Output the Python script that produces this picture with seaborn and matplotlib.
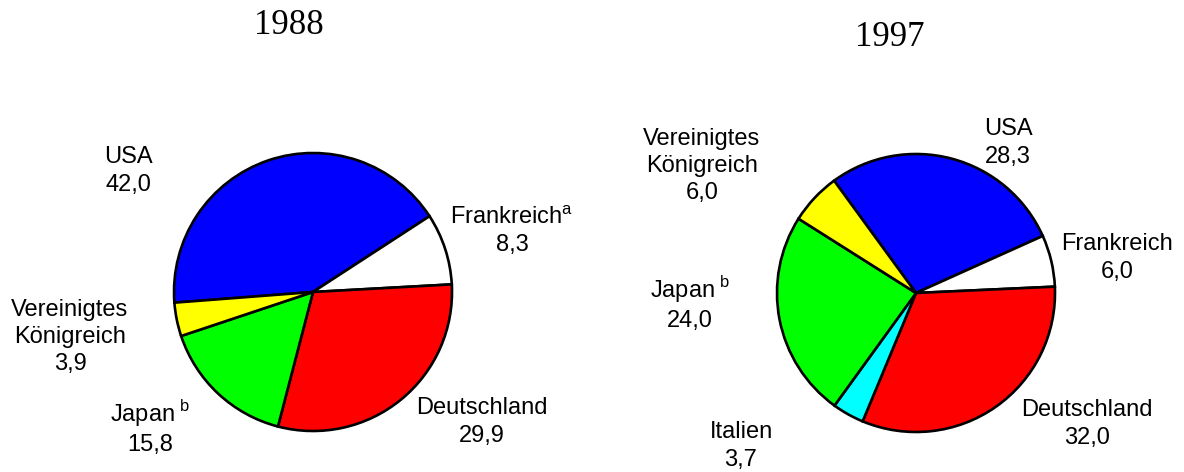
import matplotlib

matplotlib.use("Agg")

import matplotlib.pyplot as plt
import seaborn as sns

sns.set_theme(style="white")
plt.rcParams["font.family"] = ["Liberation Sans", "DejaVu Sans"]
plt.rcParams["mathtext.fontset"] = "custom"
plt.rcParams["mathtext.rm"] = "Liberation Sans"
plt.rcParams["text.color"] = "black"

# shares in percent, clockwise starting with USA
COUNTRIES_1988 = ["USA", "Frankreich", "Deutschland", "Japan", "Vereinigtes\nKönigreich"]
VALUES_1988 = [42.0, 8.3, 29.9, 15.8, 3.9]
COLORS_1988 = ["#0000ff", "#ffffff", "#ff0000", "#00ff00", "#ffff00"]
NOTES_1988 = ["", r"$^{\mathrm{a}}$", "", r"$^{\;\mathrm{b}}$", ""]

COUNTRIES_1997 = ["USA", "Frankreich", "Deutschland", "Italien", "Japan", "Vereinigtes\nKönigreich"]
VALUES_1997 = [28.3, 6.0, 32.0, 3.7, 24.0, 6.0]
COLORS_1997 = ["#0000ff", "#ffffff", "#ff0000", "#00ffff", "#00ff00", "#ffff00"]
NOTES_1997 = ["", "", "", "", r"$^{\;\mathrm{b}}$", ""]

W, H = 1184, 472


def fmt(v):
    return f"{v:.1f}".replace(".", ",")


def draw_pie(ax, values, colors, center, startangle):
    ax.pie(
        values,
        colors=colors,
        center=(center[0], H - center[1]),
        radius=139,
        startangle=startangle,
        counterclock=False,
        wedgeprops=dict(edgecolor="black", linewidth=1.9),
        frame=True,
    )


def draw_labels(ax, names, values, notes, positions):
    for name, v, note, (x, y) in zip(names, values, notes, positions):
        ax.text(x, H - y, f"{name}{note}\n{fmt(v)}", ha="center", va="center",
                fontsize=17, linespacing=1.3, color="black", zorder=5)


fig = plt.figure(figsize=(W / 100, H / 100), dpi=100)
ax = fig.add_axes([0, 0, 1, 1])

draw_pie(ax, VALUES_1988, COLORS_1988, (313, 292), -175.6)
draw_pie(ax, VALUES_1997, COLORS_1997, (916, 293), 126.1)

# label block centres, in pixels from top-left
draw_labels(ax, COUNTRIES_1988, VALUES_1988, NOTES_1988,
            [(128, 171), (512, 231), (482, 422), (150, 427), (70, 337)])
draw_labels(ax, COUNTRIES_1997, VALUES_1997, NOTES_1997,
            [(1008, 143), (1117, 258), (1087, 424), (741, 446), (690, 303), (702, 166)])

ax.text(289, H - 26, "1988", ha="center", va="center", fontsize=25, color="black",
        family=["Liberation Serif", "DejaVu Serif"])
ax.text(890, H - 37, "1997", ha="center", va="center", fontsize=25, color="black",
        family=["Liberation Serif", "DejaVu Serif"])

ax.set_xlim(0, W)
ax.set_ylim(0, H)
ax.set_aspect("equal")
ax.axis("off")

fig.savefig("out.png", dpi=100, facecolor="white")
